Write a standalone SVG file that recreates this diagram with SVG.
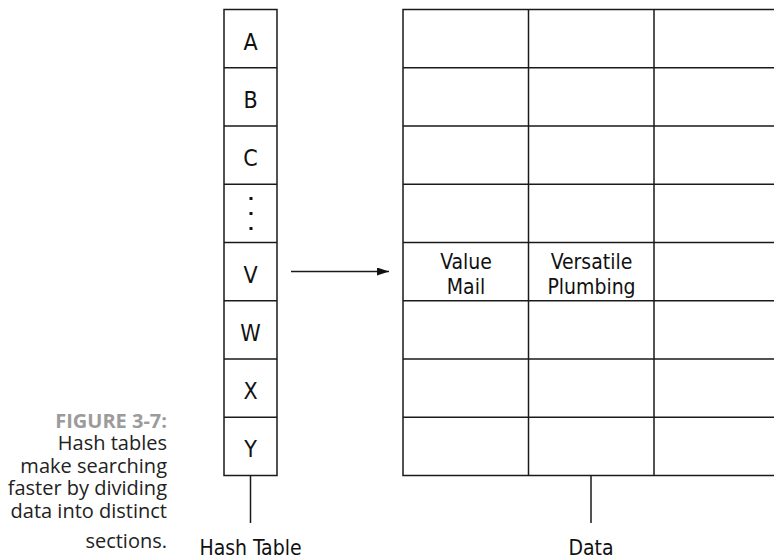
<svg xmlns="http://www.w3.org/2000/svg" width="774" height="560" viewBox="0 0 774 560">
<defs>
<style>
.grid{fill:none;stroke:#1a1a1a;stroke-width:1.5}
.lbl{font-family:"DejaVu Sans Condensed","Liberation Sans Narrow","Liberation Sans",sans-serif;font-stretch:condensed;font-size:21px;fill:#111;text-anchor:middle}
.big{font-size:23px}
.cap{font-family:"Open Sans","Liberation Sans",sans-serif;font-size:20px;fill:#222;text-anchor:end}
.fig{font-weight:bold;fill:#9b9b9b}
.dot{fill:#111}
</style>
<marker id="ah" viewBox="0 0 12 8" refX="12" refY="4" markerWidth="12" markerHeight="8" markerUnits="userSpaceOnUse" orient="auto">
<path d="M0,0 L12,4 L0,8 Z" fill="#111"/>
</marker>
</defs>
<rect width="774" height="560" fill="#fff"/>

<g id="hash-table">
<rect class="grid" x="224" y="9.5" width="53" height="466"/>
<path class="grid" d="M224,67.75H277M224,126H277M224,184.25H277M224,242.5H277M224,300.75H277M224,359H277M224,417.25H277"/>
<text class="lbl big" x="250.5" y="49.6">A</text>
<text class="lbl big" x="250.5" y="107.9">B</text>
<text class="lbl big" x="250.5" y="166.1">C</text>
<rect class="dot" x="249.5" y="197" width="3" height="3"/>
<rect class="dot" x="249.5" y="212" width="3" height="3"/>
<rect class="dot" x="249.5" y="227" width="3" height="3"/>
<text class="lbl big" x="250.5" y="282.6">V</text>
<text class="lbl big" x="250.5" y="340.9">W</text>
<text class="lbl big" x="250.5" y="399.1">X</text>
<text class="lbl big" x="250.5" y="457.4">Y</text>
<text class="lbl" x="250.5" y="555">Hash Table</text>
</g>

<g id="data-table">
<path class="grid" d="M774,9.5H403V475.5H774"/>
<path class="grid" d="M403,67.75H774M403,126H774M403,184.25H774M403,242.5H774M403,300.75H774M403,359H774M403,417.25H774M528.5,9.5V475.5M654,9.5V475.5"/>
<text class="lbl" x="466" y="268.5">Value</text>
<text class="lbl" x="466" y="294">Mail</text>
<text class="lbl" x="591.5" y="268.5">Versatile</text>
<text class="lbl" x="591.5" y="294">Plumbing</text>
<text class="lbl" x="591" y="555">Data</text>
</g>

<g id="connectors">
<line class="grid" x1="291" y1="271.5" x2="389" y2="271.5" marker-end="url(#ah)"/>
<line class="grid" x1="250.5" y1="475.5" x2="250.5" y2="523"/>
<line class="grid" x1="591" y1="475.5" x2="591" y2="523"/>
</g>

<g id="caption">
<text class="cap fig" x="167" y="428">FIGURE 3-7:</text>
<text class="cap" x="167" y="450">Hash tables</text>
<text class="cap" x="167" y="472.5">make searching</text>
<text class="cap" x="167" y="495">faster by dividing</text>
<text class="cap" x="167" y="517.5">data into distinct</text>
<text class="cap" x="167" y="548">sections.</text>
</g>
</svg>
